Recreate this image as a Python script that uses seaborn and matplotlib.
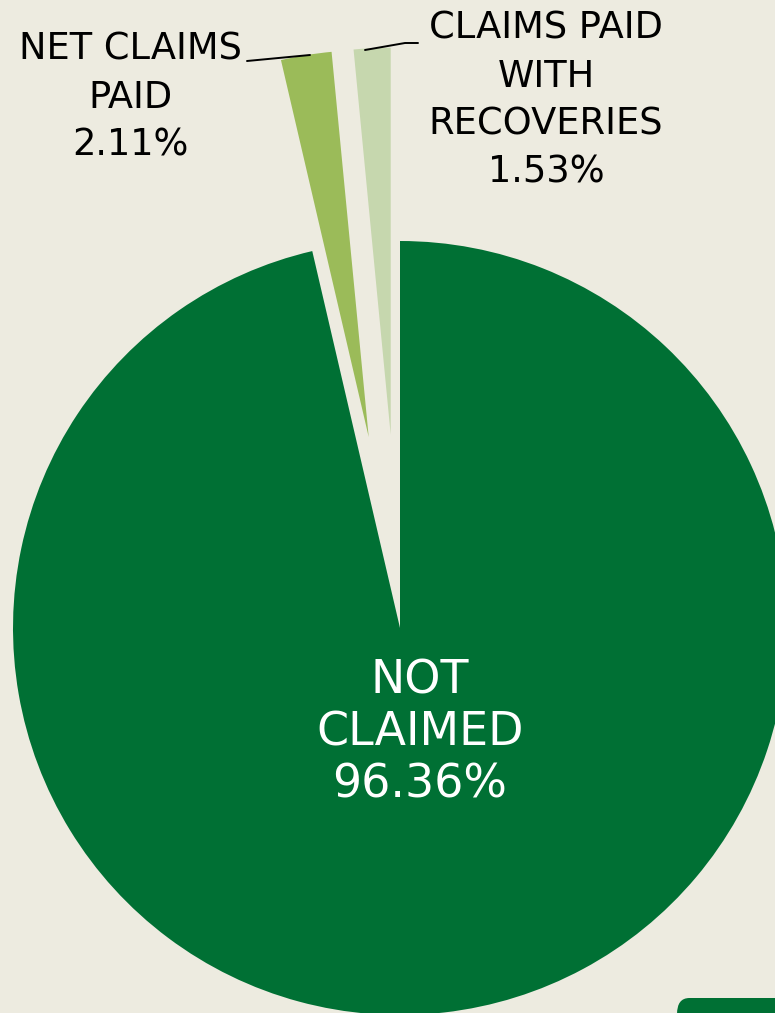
import matplotlib
matplotlib.use("Agg")
import matplotlib.pyplot as plt
from matplotlib.patches import FancyBboxPatch
import seaborn as sns

# Dados do gráfico
categorias = ["NOT\nCLAIMED", "NET CLAIMS\nPAID", "CLAIMS PAID\nWITH\nRECOVERIES"]
percentuais = [96.36, 2.11, 1.53]
cores = ["#007034", "#9BBB59", "#C6D7AE"]
afastamento = [0, 0.5, 0.5]

fundo = "#EDEBE0"

sns.set_theme(style="white")
plt.rcParams["font.family"] = ["DejaVu Sans"]

W, H = 775, 1013
fig = plt.figure(figsize=(W / 100, H / 100), dpi=100, facecolor=fundo)
ax = fig.add_axes([0, 0, 1, 1])
ax.set_facecolor(fundo)

# centro da pizza em pixels e raio
cx, cy, R = 400, 628, 387


def px(x, y):
    # converte pixel da imagem para coordenada de dados
    return (x - cx) / R, (cy - y) / R


wedges, _ = ax.pie(percentuais, colors=cores, explode=afastamento, startangle=90,
                   counterclock=False, radius=1, wedgeprops=dict(linewidth=0))

ax.set_xlim(-cx / R, (W - cx) / R)
ax.set_ylim(-(H - cy) / R, cy / R)
ax.set_aspect("auto")
ax.axis("off")

rotulos = [f"{c}\n{p:.2f}%" for c, p in zip(categorias, percentuais)]

# rótulo da fatia principal
ax.text(*px(420, 733), rotulos[0], color="white", fontsize=33, ha="center",
        va="center", linespacing=1.2)

# rótulos externos com linha de chamada
ax.text(*px(130, 97), rotulos[1], color="black", fontsize=26.5, ha="center",
        va="center", linespacing=1.37)
ax.plot(*zip(px(247, 61), px(310, 55)), color="black", lw=1.4)

ax.text(*px(546, 100), rotulos[2], color="black", fontsize=26.5, ha="center",
        va="center", linespacing=1.37)
ax.plot(*zip(px(365, 50), px(405, 43), px(418, 43)), color="black", lw=1.4)

# detalhe decorativo no canto inferior direito
fig.patches.append(FancyBboxPatch((677 / W, -0.05), 0.2, 0.05 + (H - 998) / H,
                                  boxstyle="round,pad=0,rounding_size=0.016",
                                  transform=fig.transFigure, facecolor=cores[0],
                                  edgecolor="none"))

fig.savefig("out.png", dpi=100, facecolor=fundo)
